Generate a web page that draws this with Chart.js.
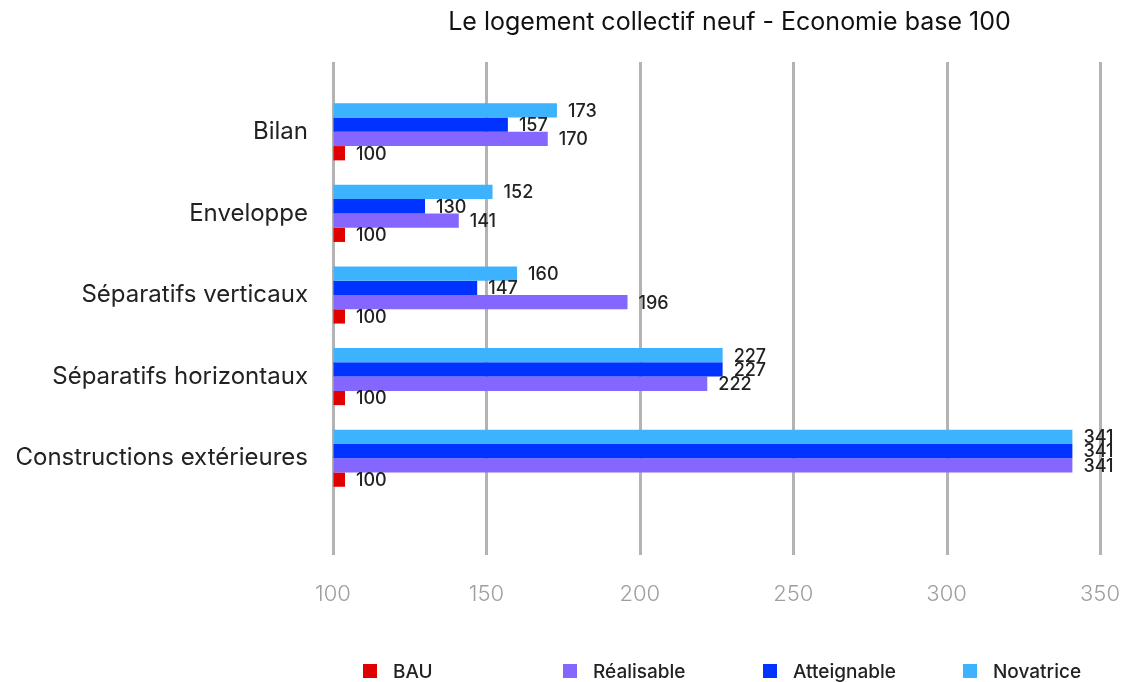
<!DOCTYPE html>
<html>
<head>
<meta charset="utf-8">
<script src="https://cdn.jsdelivr.net/npm/chart.js@4"></script>
<style>
  body { margin: 0; background: #fff; }
  #wrap { width: 1128px; height: 682px; position: relative; }
</style>
</head>
<body>
<div id="wrap"><canvas id="logementChart"></canvas></div>
<script>
const categories = ['Bilan', 'Enveloppe', 'Séparatifs verticaux', 'Séparatifs horizontaux', 'Constructions extérieures'];
const bauValues = [100, 100, 100, 100, 100];
const realisableValues = [170, 141, 196, 222, 341];
const atteignableValues = [157, 130, 147, 227, 341];
const novatriceValues = [173, 152, 160, 227, 341];
const xRange = [100, 350];
const xStep = 50;

const chartTitle = 'Le logement collectif neuf - Economie base 100';
const FONT = 'Inter, "DejaVu Sans", sans-serif';

// gridlines run past the plot area, drawn under the bars
const gridPlugin = {
    id: 'longGrid',
    beforeDatasetsDraw(chart) {
        const { ctx, chartArea, scales } = chart;
        ctx.save();
        ctx.strokeStyle = '#b3b3b3';
        ctx.lineWidth = 3;
        scales.x.ticks.forEach(t => {
            const x = Math.round(scales.x.getPixelForValue(t.value)) + 0.5;
            ctx.beginPath();
            ctx.moveTo(x, chartArea.top - 29);
            ctx.lineTo(x, chartArea.bottom + 56);
            ctx.stroke();
        });
        ctx.restore();
    }
};

// value labels at the end of each bar
const valueLabels = {
    id: 'valueLabels',
    afterDatasetsDraw(chart) {
        const { ctx } = chart;
        ctx.save();
        ctx.font = '500 18px ' + FONT;
        ctx.fillStyle = '#222';
        ctx.textBaseline = 'middle';
        ctx.textAlign = 'left';
        chart.data.datasets.forEach((ds, i) => {
            chart.getDatasetMeta(i).data.forEach((bar, j) => {
                ctx.fillText(String(ds.data[j]), bar.x + 11, bar.y + 1);
            });
        });
        ctx.restore();
    }
};

// title and legend, placed like the original
const titleLegend = {
    id: 'titleLegend',
    afterDraw(chart) {
        const { ctx, chartArea } = chart;
        ctx.save();
        ctx.fillStyle = '#111';
        ctx.font = '400 25px ' + FONT;
        ctx.textAlign = 'center';
        ctx.textBaseline = 'middle';
        ctx.fillText(chartTitle, (chartArea.left + chartArea.right) / 2 + 13, 22);

        // legend goes BAU -> Novatrice, the reverse of the dataset order
        const items = chart.data.datasets.slice().reverse();
        ctx.font = '500 19px ' + FONT;
        ctx.textAlign = 'left';
        items.forEach((ds, i) => {
            const x = 363 + i * 200;
            ctx.fillStyle = ds.backgroundColor;
            ctx.fillRect(x, 664, 14, 14);
            ctx.fillStyle = '#222';
            ctx.fillText(ds.label, x + 30, 672);
        });
        ctx.restore();
    }
};

const ctx = document.getElementById('logementChart').getContext('2d');

new Chart(ctx, {
    type: 'bar',
    data: {
        labels: categories,
        datasets: [
            { label: 'Novatrice', data: novatriceValues, backgroundColor: '#3db2ff' },
            { label: 'Atteignable', data: atteignableValues, backgroundColor: '#0033ff' },
            { label: 'Réalisable', data: realisableValues, backgroundColor: '#8566ff' },
            { label: 'BAU', data: bauValues, backgroundColor: '#e00000', minBarLength: 12 }
        ]
    },
    options: {
        indexAxis: 'y',
        responsive: true,
        maintainAspectRatio: false,
        animation: false,
        categoryPercentage: 0.7,
        barPercentage: 1.0,
        datasets: {
            bar: { base: xRange[0] }
        },
        layout: {
            padding: { top: 91, right: 28, bottom: 72, left: 0 }
        },
        scales: {
            x: {
                min: xRange[0],
                max: xRange[1],
                // invisible tick marks just to push the labels down
                grid: { display: true, drawOnChartArea: false, drawTicks: true, tickLength: 76, color: 'rgba(0,0,0,0)' },
                border: { display: false },
                afterFit(scale) { scale.height = 111; },
                ticks: {
                    stepSize: xStep,
                    padding: 6,
                    color: '#9e9e9e',
                    font: { family: FONT, size: 22, weight: '300' }
                }
            },
            y: {
                grid: { display: false, drawTicks: false },
                border: { display: false },
                afterFit(scale) { scale.width = 333; },
                ticks: {
                    padding: 25,
                    color: '#222',
                    font: { family: FONT, size: 24, weight: '400' }
                }
            }
        },
        plugins: {
            legend: { display: false },
            title: { display: false },
            tooltip: { enabled: false }
        }
    },
    plugins: [gridPlugin, valueLabels, titleLegend]
});
</script>
</body>
</html>
